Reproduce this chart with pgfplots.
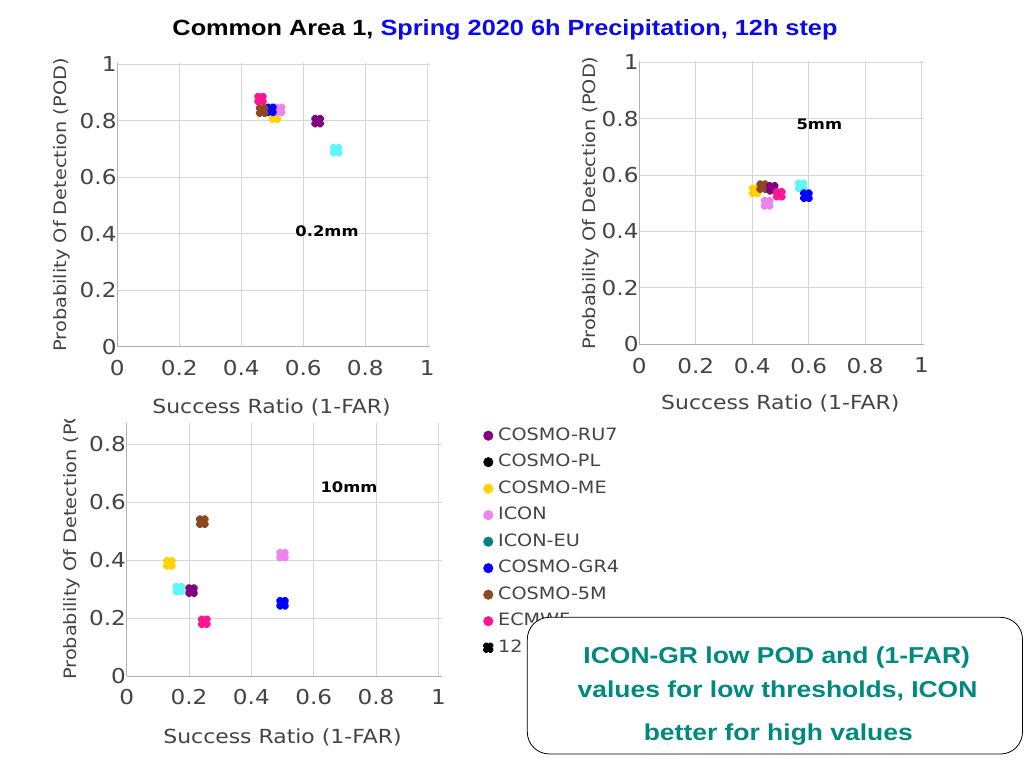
\documentclass[border=0pt]{standalone}
\usepackage{fontspec}
\usepackage{pgfplots}
\pgfplotsset{compat=1.18}
\newfontfamily\pf[FakeStretch=1.13]{DejaVu Sans}
\newfontfamily\lsb[FakeStretch=1.15]{Liberation Sans}
\definecolor{tcol}{RGB}{68,68,68}
\definecolor{cRU}{RGB}{128,0,128}
\definecolor{cME}{RGB}{255,210,0}
\definecolor{cICON}{RGB}{238,130,238}
\definecolor{cEU}{RGB}{0,128,128}
\definecolor{cCY}{RGB}{95,245,250}
\definecolor{cGR}{RGB}{0,0,255}
\definecolor{c5M}{RGB}{140,72,35}
\definecolor{cEC}{RGB}{255,20,147}
\definecolor{boxt}{RGB}{0,137,128}
\definecolor{tblue}{RGB}{10,10,235}
\pgfdeclareplotmark{plx}{%
  \pgfpathmoveto{\pgfpoint{0pt}{\pgfplotmarksize}}%
  \pgfpathlineto{\pgfpoint{\pgfplotmarksize}{2*\pgfplotmarksize}}%
  \pgfpathlineto{\pgfpoint{2*\pgfplotmarksize}{\pgfplotmarksize}}%
  \pgfpathlineto{\pgfpoint{\pgfplotmarksize}{0pt}}%
  \pgfpathlineto{\pgfpoint{2*\pgfplotmarksize}{-\pgfplotmarksize}}%
  \pgfpathlineto{\pgfpoint{\pgfplotmarksize}{-2*\pgfplotmarksize}}%
  \pgfpathlineto{\pgfpoint{0pt}{-\pgfplotmarksize}}%
  \pgfpathlineto{\pgfpoint{-\pgfplotmarksize}{-2*\pgfplotmarksize}}%
  \pgfpathlineto{\pgfpoint{-2*\pgfplotmarksize}{-\pgfplotmarksize}}%
  \pgfpathlineto{\pgfpoint{-\pgfplotmarksize}{0pt}}%
  \pgfpathlineto{\pgfpoint{-2*\pgfplotmarksize}{\pgfplotmarksize}}%
  \pgfpathlineto{\pgfpoint{-\pgfplotmarksize}{2*\pgfplotmarksize}}%
  \pgfpathclose
  \pgfusepathqfillstroke}
\pgfplotsset{
  myax/.style={scale only axis, xmin=0, xmax=1.01, ymin=0,
    axis lines*=left, axis line style={draw=gray!60, line width=0.8pt, -},
    grid=major, grid style={draw=gray!32, line width=0.8pt},
    major tick length=0pt,
    tick label style={font=\pf\fontsize{20.5}{24}\selectfont, text=tcol},
    /pgf/number format/assume math mode=true,
    xtick={0,0.2,0.4,0.6,0.8,1},
    xticklabel style={yshift=-10pt},
    yticklabel style={xshift=2.8pt},
    clip=false},
  pts/.style={only marks, mark=plx, mark size=2.5pt, color=#1,
    mark options={line width=3.4pt, line join=round, draw=#1, fill=#1}, forget plot},
  lgm/.style={only marks, mark=*, mark size=4.8pt, color=#1, mark options={draw=#1, fill=#1}}
}
\begin{document}
\begin{tikzpicture}[x=1pt,y=1pt]
\useasboundingbox (0pt,0pt) rectangle (1024pt,768pt);
\fill[white] (0pt,0pt) rectangle (1024pt,768pt);

% ---- Panel 1: 0.2mm
\begin{axis}[myax, at={(117.3pt,421.3pt)}, anchor=south west, width=313.1pt, height=284.1pt,
  ymax=1.005, ytick={0,0.2,0.4,0.6,0.8,1}]
\addplot[pts=cME] coordinates {(0.508,0.814)};
\addplot[pts=cICON] coordinates {(0.522,0.838)};
\addplot[pts=cGR] coordinates {(0.494,0.838)};
\addplot[pts=cEC] coordinates {(0.462,0.876)};
\addplot[pts=c5M] coordinates {(0.467,0.835)};
\addplot[pts=cCY] coordinates {(0.706,0.695)};
\addplot[pts=cRU] coordinates {(0.646,0.798)};
\end{axis}

% ---- Panel 2: 5mm
\begin{axis}[myax, at={(639.3pt,423.7pt)}, anchor=south west, width=285.1pt, height=283.4pt,
  ymax=1.005, ytick={0,0.2,0.4,0.6,0.8,1}]
\addplot[pts=cME] coordinates {(0.410,0.544)};
\addplot[pts=cICON] coordinates {(0.453,0.500)};
\addplot[pts=c5M] coordinates {(0.437,0.559)};
\addplot[pts=cRU] coordinates {(0.471,0.553)};
\addplot[pts=cEC] coordinates {(0.496,0.532)};
\addplot[pts=cCY] coordinates {(0.573,0.562)};
\addplot[pts=cGR] coordinates {(0.592,0.527)};
\end{axis}

% ---- Panel 3: 10mm
\begin{axis}[myax, at={(126.7pt,92pt)}, anchor=south west, width=314.8pt, height=252.8pt,
  ymax=0.873, ytick={0,0.2,0.4,0.6,0.8},
  legend style={at={(1.1328,0.985)}, anchor=north west, draw=none, fill=none,
    font=\pf\fontsize{17}{20}\selectfont, text=tcol, inner sep=0pt,
    row sep=9.5pt, column sep=5pt,
    nodes={inner sep=0pt, text height=13pt, text depth=4pt}},
  legend cell align=left,
  legend image code/.code={\draw[#1] plot coordinates {(0pt,0pt)};}]
\addplot[pts=c5M] coordinates {(0.243,0.533)};
\addplot[pts=cME] coordinates {(0.137,0.389)};
\addplot[pts=cICON] coordinates {(0.500,0.417)};
\addplot[pts=cCY] coordinates {(0.167,0.300)};
\addplot[pts=cRU] coordinates {(0.208,0.295)};
\addplot[pts=cGR] coordinates {(0.500,0.251)};
\addplot[pts=cEC] coordinates {(0.249,0.1875)};
\addlegendimage{lgm=cRU}
\addlegendimage{lgm=black}
\addlegendimage{lgm=cME}
\addlegendimage{lgm=cICON}
\addlegendimage{lgm=cEU}
\addlegendimage{lgm=cGR}
\addlegendimage{lgm=c5M}
\addlegendimage{lgm=cEC}
\addlegendimage{only marks, mark=plx, mark size=2.1pt, color=black, mark options={line width=2.6pt, line join=round, draw=black, fill=black}}
\legend{COSMO-RU7,COSMO-PL,COSMO-ME,ICON,ICON-EU,COSMO-GR4,COSMO-5M,ECMWF,12}
\end{axis}

% ---- axis titles
\begin{scope}[every node/.style={inner sep=0pt, text=tcol, font=\pf\fontsize{19.4}{23}\selectfont}]
\node[anchor=base] at (271.5pt,354.7pt) {Success Ratio (1-FAR)};
\node[anchor=base] at (780.3pt,358pt) {Success Ratio (1-FAR)};
\node[anchor=base] at (282.5pt,24.7pt) {Success Ratio (1-FAR)};
\end{scope}
\begin{scope}[every node/.style={inner sep=0pt, text=tcol, font=\pf\fontsize{17.1}{21}\selectfont}]
\node[anchor=base west, rotate=90] at (66.7pt,416.3pt) {Probability Of Detection (POD)};
\node[anchor=base west, rotate=90] at (595pt,418pt) {Probability Of Detection (POD)};
\begin{scope}
\clip (0pt,0pt) rectangle (110pt,348pt);
\node[anchor=base west, rotate=90] at (76pt,88pt) {Probability Of Detection (POD)};
\end{scope}
\end{scope}

% ---- threshold annotations
\begin{scope}[every node/.style={inner sep=0pt, text=black, font=\pf\bfseries\fontsize{14.5}{17}\selectfont}]
\node[anchor=base] at (327pt,531.3pt) {0.2mm};
\node[anchor=base] at (819.3pt,638.7pt) {5mm};
\node[anchor=base] at (349pt,275.7pt) {10mm};
\end{scope}

% ---- title
\node[anchor=base, inner sep=0pt, font=\lsb\bfseries\fontsize{22}{26}\selectfont] at (505pt,732pt)
  {Common Area 1, \textcolor{tblue}{Spring 2020 6h Precipitation, 12h step}};

% ---- comment box
\draw[black, line width=0.8pt, fill=white, rounded corners=22pt] (527.3pt,150.7pt) rectangle (1022.5pt,14pt);
\begin{scope}[every node/.style={inner sep=0pt, text=boxt, font=\lsb\bfseries\fontsize{23}{27}\selectfont}]
\node[anchor=base] at (776.7pt,104.7pt) {ICON-GR low POD and (1-FAR)};
\node[anchor=base] at (777.5pt,70.7pt) {values for low thresholds, ICON};
\node[anchor=base] at (778.3pt,28pt) {better for high values};
\end{scope}
\end{tikzpicture}
\end{document}
